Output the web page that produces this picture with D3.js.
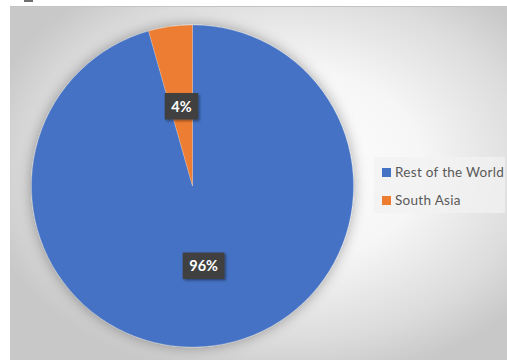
<!DOCTYPE html>
<html>
<head>
<meta charset="utf-8">
<script src="https://cdn.jsdelivr.net/npm/d3@7"></script>
<style>
  html, body { margin: 0; padding: 0; background: #ffffff; }
  svg { display: block; }
</style>
</head>
<body>
<svg id="chart" width="507" height="360"></svg>
<script>
// Share of total by region
const categories = ["Rest of the World", "South Asia"];
const shares = [0.956, 0.044];
const colors = ["#4472C4", "#ED7D31"];

const W = 507, H = 360;
const svg = d3.select("#chart");
const defs = svg.append("defs");

// chart-area background: soft radial gradient
const bg = defs.append("radialGradient")
  .attr("id", "bgGrad")
  .attr("cx", 0.55).attr("cy", 0.45).attr("r", 0.62);
[[0, "#ffffff"], [0.45, "#f6f6f6"], [0.8, "#dcdcdc"], [1, "#c8c8c8"]]
  .forEach(([o, c]) => bg.append("stop").attr("offset", o).attr("stop-color", c));

const pieShadow = defs.append("filter").attr("id", "pieShadow")
  .attr("x", "-20%").attr("y", "-20%").attr("width", "140%").attr("height", "140%");
pieShadow.append("feDropShadow")
  .attr("dx", 0).attr("dy", 0).attr("stdDeviation", 7)
  .attr("flood-color", "#000").attr("flood-opacity", 0.35);

const boxShadow = defs.append("filter").attr("id", "boxShadow")
  .attr("x", "-30%").attr("y", "-30%").attr("width", "160%").attr("height", "160%");
boxShadow.append("feDropShadow")
  .attr("dx", 1.5).attr("dy", 1.5).attr("stdDeviation", 1.2)
  .attr("flood-color", "#000").attr("flood-opacity", 0.4);

// small fragment above the frame
svg.append("rect").attr("x", 24).attr("y", 0).attr("width", 9).attr("height", 2).attr("fill", "#6f6f6f");

// chart area
svg.append("rect")
  .attr("x", 10).attr("y", 6).attr("width", W - 10).attr("height", H - 6)
  .attr("fill", "url(#bgGrad)");
svg.append("line").attr("x1", 10).attr("x2", W).attr("y1", 6.5).attr("y2", 6.5)
  .attr("stroke", "#c4c4c4").attr("stroke-width", 1);

// pie
const cx = 192.5, cy = 186, R = 161;
const pie = d3.pie().sort(null).value(d => d)(shares);
const arc = d3.arc().innerRadius(0).outerRadius(R);

const g = svg.append("g").attr("transform", `translate(${cx},${cy})`);
g.append("g").attr("filter", "url(#pieShadow)")
  .selectAll("path").data(pie).join("path")
  .attr("d", arc)
  .attr("fill", (d, i) => colors[i])
  .attr("stroke", "#ffffff").attr("stroke-width", 0.4).attr("stroke-opacity", 0.5);

// data labels
const fmt = d3.format(".0%");
const labels = g.selectAll("g.lbl").data(pie).join("g")
  .attr("class", "lbl")
  .attr("transform", d => `translate(${arc.centroid(d)})`);

labels.each(function (d) {
  const sel = d3.select(this);
  const txt = fmt(d.data);
  const t = sel.append("text")
    .attr("text-anchor", "middle")
    .attr("dy", "0.36em")
    .attr("font-family", "Lato, 'Open Sans', sans-serif")
    .attr("font-weight", "bold")
    .attr("font-size", 14.5)
    .attr("fill", "#ffffff")
    .text(txt);
  const bb = t.node().getBBox();
  const padX = 6.5, h = 26.5;
  sel.insert("rect", "text")
    .attr("x", -bb.width / 2 - padX)
    .attr("y", -h / 2)
    .attr("width", bb.width + padX * 2)
    .attr("height", h)
    .attr("fill", "#404040")
    .attr("filter", "url(#boxShadow)");
});

// legend
const legend = svg.append("g");
legend.append("rect")
  .attr("x", 374).attr("y", 157).attr("width", 131).attr("height", 56)
  .attr("fill", "#f2f2f2").attr("fill-opacity", 0.75);

const items = legend.selectAll("g.item").data(categories).join("g")
  .attr("class", "item")
  .attr("transform", (d, i) => `translate(382, ${172.5 + i * 28})`);
items.append("rect")
  .attr("x", 0).attr("y", -4.5).attr("width", 9).attr("height", 9)
  .attr("fill", (d, i) => colors[i]);
items.append("text")
  .attr("x", 13).attr("dy", "0.36em")
  .attr("font-family", "Lato, 'Open Sans', sans-serif")
  .attr("font-size", 13.5)
  .attr("letter-spacing", 0.3)
  .attr("fill", "#595959")
  .text(d => d);
</script>
</body>
</html>
